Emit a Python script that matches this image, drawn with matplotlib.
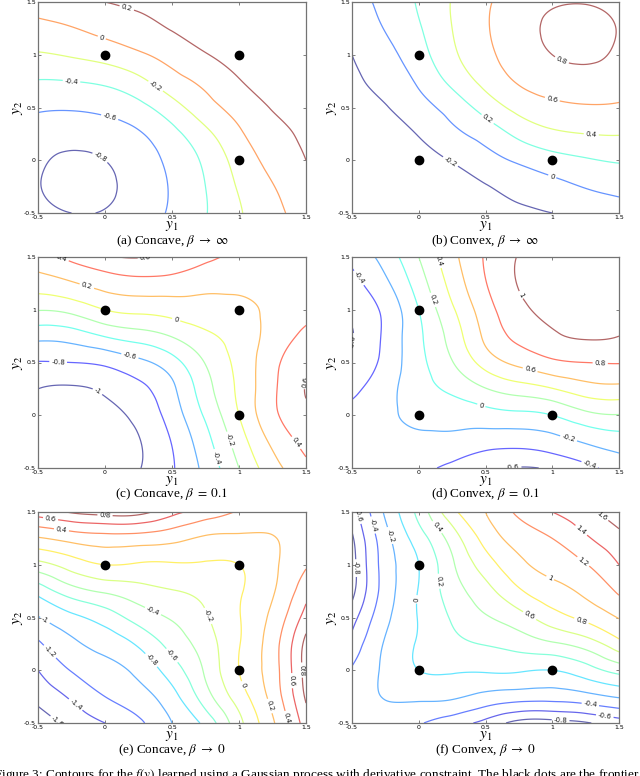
import numpy as np
import matplotlib
matplotlib.use('Agg')
import matplotlib.pyplot as plt
import matplotlib.tri as mtri

plt.rcParams['mathtext.fontset'] = 'stix'

# sample grid, same for y1 and y2
grid = [-0.5, -0.25, 0.0, 0.25, 0.5, 0.75, 1.0, 1.25, 1.5]
tick_vals = [-0.5, 0, 0.5, 1, 1.5]
tick_text = ['-0.5', '0', '0.5', '1', '1.5']

# f(y): one list per y1 column, y2 from -0.5 up to 1.5
concave_inf = [
    [-0.74, -0.79, -0.77, -0.71, -0.57, -0.41, -0.22, -0.06, 0.10],
    [-0.80, -0.86, -0.83, -0.73, -0.58, -0.40, -0.18, -0.01, 0.16],
    [-0.79, -0.83, -0.80, -0.70, -0.55, -0.36, -0.12, 0.06, 0.20],
    [-0.71, -0.73, -0.70, -0.62, -0.46, -0.25, -0.03, 0.13, 0.24],
    [-0.57, -0.58, -0.55, -0.46, -0.28, -0.08, 0.08, 0.21, 0.27],
    [-0.41, -0.40, -0.36, -0.25, -0.08, 0.05, 0.19, 0.26, 0.30],
    [-0.22, -0.18, -0.12, -0.03, 0.08, 0.19, 0.26, 0.30, 0.33],
    [-0.06, -0.01, 0.06, 0.13, 0.21, 0.26, 0.30, 0.33, 0.35],
    [0.10, 0.16, 0.20, 0.24, 0.27, 0.30, 0.33, 0.35, 0.36],
]
convex_inf = [
    [-0.36, -0.35, -0.33, -0.30, -0.27, -0.24, -0.20, -0.16, -0.10],
    [-0.35, -0.33, -0.30, -0.26, -0.21, -0.13, -0.06, 0.01, 0.06],
    [-0.33, -0.30, -0.26, -0.19, -0.08, 0.03, 0.12, 0.18, 0.22],
    [-0.30, -0.26, -0.19, -0.05, 0.08, 0.25, 0.36, 0.40, 0.41],
    [-0.27, -0.21, -0.08, 0.08, 0.28, 0.46, 0.55, 0.58, 0.57],
    [-0.24, -0.13, 0.03, 0.25, 0.46, 0.62, 0.70, 0.73, 0.71],
    [-0.20, -0.06, 0.12, 0.36, 0.55, 0.70, 0.80, 0.83, 0.78],
    [-0.16, 0.01, 0.18, 0.40, 0.58, 0.73, 0.83, 0.86, 0.79],
    [-0.10, 0.06, 0.22, 0.41, 0.57, 0.71, 0.77, 0.79, 0.74],
]
concave_01 = [
    [-1.17, -1.16, -1.09, -1.00, -0.81, -0.54, -0.19, 0.10, 0.33],
    [-1.16, -1.14, -1.08, -1.02, -0.80, -0.51, -0.14, 0.18, 0.45],
    [-1.10, -1.09, -1.05, -0.97, -0.76, -0.39, 0.00, 0.28, 0.57],
    [-1.01, -1.01, -0.95, -0.85, -0.65, -0.30, 0.05, 0.33, 0.61],
    [-0.82, -0.79, -0.71, -0.64, -0.48, -0.19, 0.08, 0.32, 0.55],
    [-0.54, -0.47, -0.37, -0.28, -0.19, -0.04, 0.11, 0.27, 0.44],
    [-0.20, -0.10, 0.00, 0.04, 0.06, 0.08, 0.13, 0.27, 0.36],
    [0.12, 0.24, 0.35, 0.36, 0.34, 0.28, 0.26, 0.27, 0.30],
    [0.35, 0.46, 0.55, 0.61, 0.55, 0.44, 0.35, 0.30, 0.32],
]
convex_01 = [
    [-0.32, -0.30, -0.35, -0.44, -0.55, -0.61, -0.55, -0.46, -0.35],
    [-0.30, -0.27, -0.26, -0.28, -0.34, -0.36, -0.35, -0.24, -0.12],
    [-0.36, -0.27, -0.13, -0.08, -0.06, -0.04, 0.00, 0.10, 0.20],
    [-0.44, -0.27, -0.11, 0.04, 0.19, 0.28, 0.37, 0.47, 0.54],
    [-0.55, -0.32, -0.08, 0.19, 0.48, 0.64, 0.71, 0.79, 0.82],
    [-0.61, -0.33, -0.05, 0.30, 0.65, 0.85, 0.95, 1.01, 1.01],
    [-0.57, -0.28, 0.00, 0.39, 0.76, 0.97, 1.05, 1.09, 1.10],
    [-0.45, -0.18, 0.14, 0.51, 0.80, 1.02, 1.08, 1.14, 1.16],
    [-0.33, -0.10, 0.19, 0.54, 0.81, 1.00, 1.09, 1.16, 1.17],
]
concave_0 = [
    [-1.72, -1.54, -1.40, -1.23, -1.01, -0.73, -0.27, 0.18, 0.70],
    [-1.54, -1.37, -1.19, -1.04, -0.85, -0.49, -0.11, 0.27, 0.82],
    [-1.40, -1.20, -1.07, -0.93, -0.71, -0.37, 0.00, 0.32, 0.88],
    [-1.24, -1.08, -0.95, -0.77, -0.52, -0.28, -0.02, 0.31, 0.87],
    [-1.00, -0.87, -0.70, -0.53, -0.38, -0.21, -0.02, 0.26, 0.66],
    [-0.74, -0.49, -0.37, -0.30, -0.22, -0.15, -0.02, 0.17, 0.52],
    [-0.26, -0.10, 0.00, -0.01, -0.01, -0.02, 0.00, 0.16, 0.38],
    [0.17, 0.27, 0.31, 0.31, 0.25, 0.18, 0.16, 0.19, 0.31],
    [0.70, 0.83, 0.88, 0.86, 0.68, 0.53, 0.38, 0.32, 0.34],
]
convex_0 = [
    [-0.34, -0.32, -0.38, -0.53, -0.68, -0.86, -0.88, -0.83, -0.70],
    [-0.31, -0.19, -0.16, -0.18, -0.25, -0.31, -0.31, -0.27, -0.17],
    [-0.38, -0.16, 0.00, 0.02, 0.01, 0.01, 0.00, 0.10, 0.26],
    [-0.52, -0.17, 0.02, 0.15, 0.22, 0.30, 0.37, 0.49, 0.74],
    [-0.66, -0.26, 0.02, 0.21, 0.38, 0.53, 0.70, 0.87, 1.00],
    [-0.87, -0.31, 0.02, 0.28, 0.52, 0.77, 0.95, 1.08, 1.24],
    [-0.88, -0.32, 0.00, 0.37, 0.71, 0.93, 1.07, 1.20, 1.40],
    [-0.82, -0.27, 0.11, 0.49, 0.85, 1.04, 1.19, 1.37, 1.54],
    [-0.70, -0.18, 0.27, 0.73, 1.01, 1.23, 1.40, 1.54, 1.72],
]

levels_a = [-0.8, -0.6, -0.4, -0.2, 0, 0.2]
levels_b = [-0.2, 0, 0.2, 0.4, 0.6, 0.8]
levels_c = [-1, -0.8, -0.6, -0.4, -0.2, 0, 0.2, 0.4, 0.6]
levels_d = [-0.6, -0.4, -0.2, 0, 0.2, 0.4, 0.6, 0.8, 1]
levels_e = [-1.6, -1.4, -1.2, -1, -0.8, -0.6, -0.4, -0.2, 0, 0.2, 0.4, 0.6, 0.8]
levels_f = [-0.8, -0.6, -0.4, -0.2, 0, 0.2, 0.4, 0.6, 0.8, 1, 1.2, 1.4, 1.6]

# frontier points
concave_y1 = [0, 1, 1]
concave_y2 = [1, 1, 0]
convex_y1 = [0, 0, 1]
convex_y2 = [1, 0, 0]

captions = [r'(a) Concave, $\beta \;\rightarrow\; \infty$', r'(b) Convex, $\beta \;\rightarrow\; \infty$',
            r'(c) Concave, $\beta \;=\; 0.1$', r'(d) Convex, $\beta \;=\; 0.1$',
            r'(e) Concave, $\beta \;\rightarrow\; 0$', r'(f) Convex, $\beta \;\rightarrow\; 0$']

panels = [
    (concave_inf, levels_a, concave_y1, concave_y2),
    (convex_inf, levels_b, convex_y1, convex_y2),
    (concave_01, levels_c, concave_y1, concave_y2),
    (convex_01, levels_d, convex_y1, convex_y2),
    (concave_0, levels_e, concave_y1, concave_y2),
    (convex_0, levels_f, convex_y1, convex_y2),
]

W, H = 640, 776
fig = plt.figure(figsize=(W / 100, H / 100), dpi=100)

col_left = [38, 352]
col_width = [268, 267]
row_top = [2, 257, 512]
row_height = 211
caption_y = [241, 494, 750]

gx, gy = np.meshgrid(grid, grid)
triang = mtri.Triangulation(gx.ravel(), gy.ravel())
refiner = mtri.UniformTriRefiner(triang)
jet = plt.get_cmap('jet')

for k, (cols, levels, dx, dy) in enumerate(panels):
    r, c = divmod(k, 2)
    ax = fig.add_axes([col_left[c] / W, 1 - (row_top[r] + row_height) / H,
                       col_width[c] / W, row_height / H])
    z = np.array(cols).T.ravel()
    tri_r, z_r = refiner.refine_field(z, subdiv=4)
    # pale jet colours, like the thin matlab lines
    line_cols = [0.4 * np.ones(3) + 0.6 * np.array(jet(t)[:3])
                 for t in np.linspace(0, 1, len(levels))]
    cs = ax.tricontour(tri_r, z_r, levels=levels, colors=line_cols, linewidths=0.9)
    ax.clabel(cs, fmt='%g', fontsize=5, inline=True, inline_spacing=2, colors='0.1')
    ax.plot(dx, dy, 'o', color='k', markersize=6, zorder=5)

    ax.set_xlim(-0.5, 1.5)
    ax.set_ylim(-0.5, 1.5)
    ax.set_xticks(tick_vals)
    ax.set_yticks(tick_vals)
    ax.set_xticklabels(tick_text)
    ax.set_yticklabels(tick_text)
    ax.tick_params(direction='in', length=2.5, width=0.5, top=True, right=True,
                   labelsize=4.5, pad=1.5, color='0.3')
    for s in ax.spines.values():
        s.set_color('0.45')
        s.set_linewidth(0.9)
    ax.set_xlabel('$y_1$', fontsize=11, labelpad=-1.2)
    ax.set_ylabel('$y_2$', fontsize=11, labelpad=-1)

    fig.text((col_left[c] + col_width[c] / 2) / W, 1 - caption_y[r] / H, captions[k],
             ha='center', va='center', fontsize=9.5, family='Liberation Serif')

fig.text(-6 / W, 1 - 778 / H,
         'Figure 3: Contours for the $f(y)$ learned using a Gaussian process with derivative '
         'constraint. The black dots are the frontier',
         ha='left', va='baseline', fontsize=9.5, family='Liberation Serif')

fig.savefig('out.png', dpi=100)
